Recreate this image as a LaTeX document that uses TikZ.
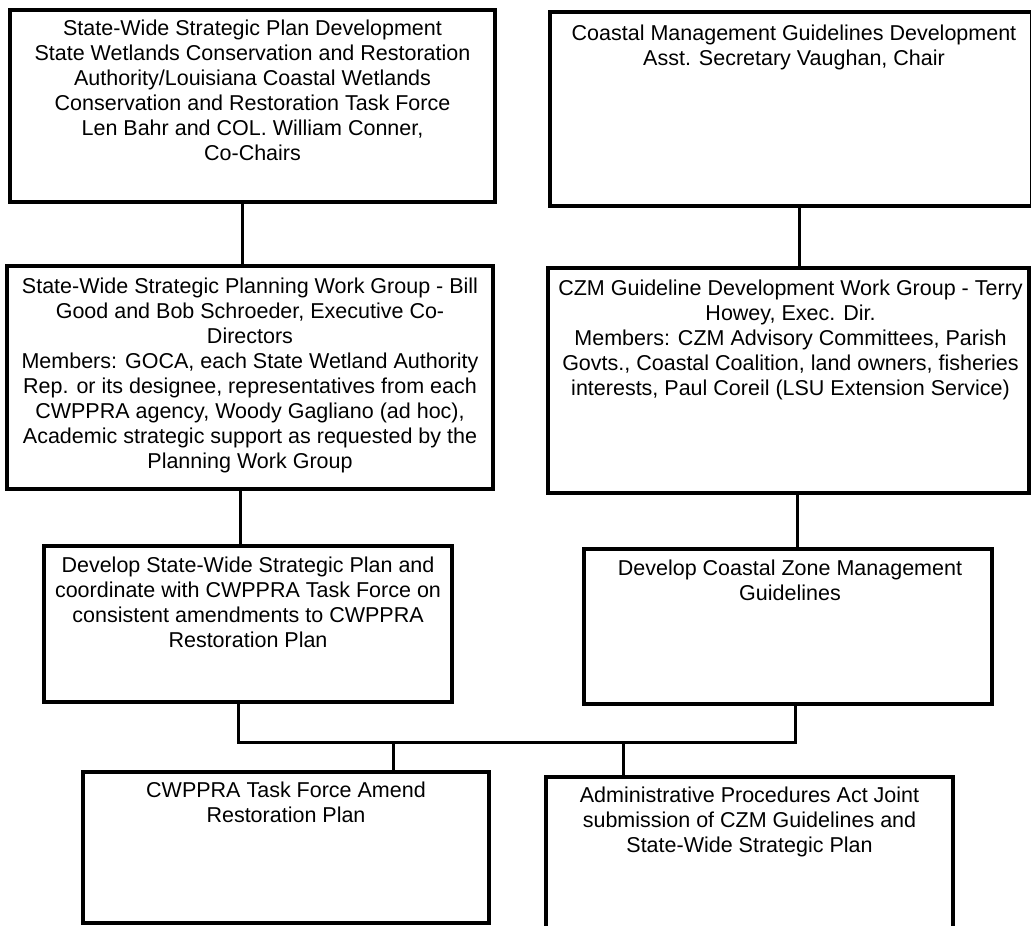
\documentclass[tikz,border=0pt]{standalone}
\usepackage{fontspec}
\setmainfont{Liberation Sans}
\begin{document}
\begin{tikzpicture}[x=1pt,y=-1pt,
  box/.style={draw=black, line width=3.2pt, inner sep=0pt, outer sep=0pt, fill=none},
  txt/.style={anchor=north, align=center, inner sep=0pt, font=\fontsize{21.5pt}{25pt}\selectfont},
  conn/.style={draw=black, line width=3pt}]
\useasboundingbox (0,0) rectangle (1031,926);
% boxes
\node[box, minimum width=485pt, minimum height=192pt] (b1) at (252.5,106) {};
\node[box, minimum width=482pt, minimum height=194pt] (b2) at (791,109) {};
\node[box, minimum width=486pt, minimum height=223pt] (b3) at (250,377.5) {};
\node[box, minimum width=481pt, minimum height=225pt] (b4) at (788.5,380.5) {};
\node[box, minimum width=408pt, minimum height=156pt] (b5) at (248,624) {};
\node[box, minimum width=408pt, minimum height=155pt] (b6) at (788,626.5) {};
\node[box, minimum width=406pt, minimum height=151pt] (b7) at (286,847.5) {};
\node[box, minimum width=407pt, minimum height=153pt] (b8) at (749.5,853.5) {};
% texts
\node[txt] (t1) at ([yshift=-10pt]b1.north) {State-Wide Strategic Plan Development\\State Wetlands Conservation and Restoration\\Authority/Louisiana Coastal Wetlands\\Conservation and Restoration Task Force\\Len Bahr and COL. William Conner,\\Co-Chairs};
\node[txt] (t2) at ([yshift=-13pt,xshift=3pt]b2.north) {Coastal Management Guidelines Development\\Asst. Secretary Vaughan, Chair};
\node[txt] (t3) at ([yshift=-12pt]b3.north) {State-Wide Strategic Planning Work Group - Bill\\Good and Bob Schroeder, Executive Co-\\Directors\\Members: GOCA, each State Wetland Authority\\Rep. or its designee, representatives from each\\CWPPRA agency, Woody Gagliano (ad hoc),\\Academic strategic support as requested by the\\Planning Work Group};
\node[txt] (t4) at ([yshift=-12pt,xshift=2pt]b4.north) {CZM Guideline Development Work Group - Terry\\Howey, Exec. Dir.\\Members: CZM Advisory Committees, Parish\\Govts., Coastal Coalition, land owners, fisheries\\interests, Paul Coreil (LSU Extension Service)};
\node[txt] (t5) at ([yshift=-11pt]b5.north) {Develop State-Wide Strategic Plan and\\coordinate with CWPPRA Task Force on\\consistent amendments to CWPPRA\\Restoration Plan};
\node[txt] (t6) at ([yshift=-11pt,xshift=2pt]b6.north) {Develop Coastal Zone Management\\Guidelines};
\node[txt] (t7) at ([yshift=-10pt]b7.north) {CWPPRA Task Force Amend\\Restoration Plan};
\node[txt] (t8) at ([yshift=-10pt]b8.north) {Administrative Procedures Act Joint\\submission of CZM Guidelines and\\State-Wide Strategic Plan};
% connector guides
\coordinate (x13) at (242,0);
\coordinate (x24) at (799,0);
\coordinate (x35) at (240,0);
\coordinate (x46) at (797,0);
\coordinate (jl) at (238,742);
\coordinate (jr) at (795,742);
\coordinate (d7) at (393,742);
\coordinate (d8) at (623,742);
% connectors
\draw[conn] (b1.south -| x13) -- (b3.north -| x13);
\draw[conn] (b2.south -| x24) -- (b4.north -| x24);
\draw[conn] (b3.south -| x35) -- (b5.north -| x35);
\draw[conn] (b4.south -| x46) -- (b6.north -| x46);
\draw[conn] (b5.south -| jl) -- (jl) -- (jr) -- (b6.south -| jr);
\draw[conn] (d7) -- (b7.north -| d7);
\draw[conn] (d8) -- (b8.north -| d8);
\end{tikzpicture}
\end{document}
